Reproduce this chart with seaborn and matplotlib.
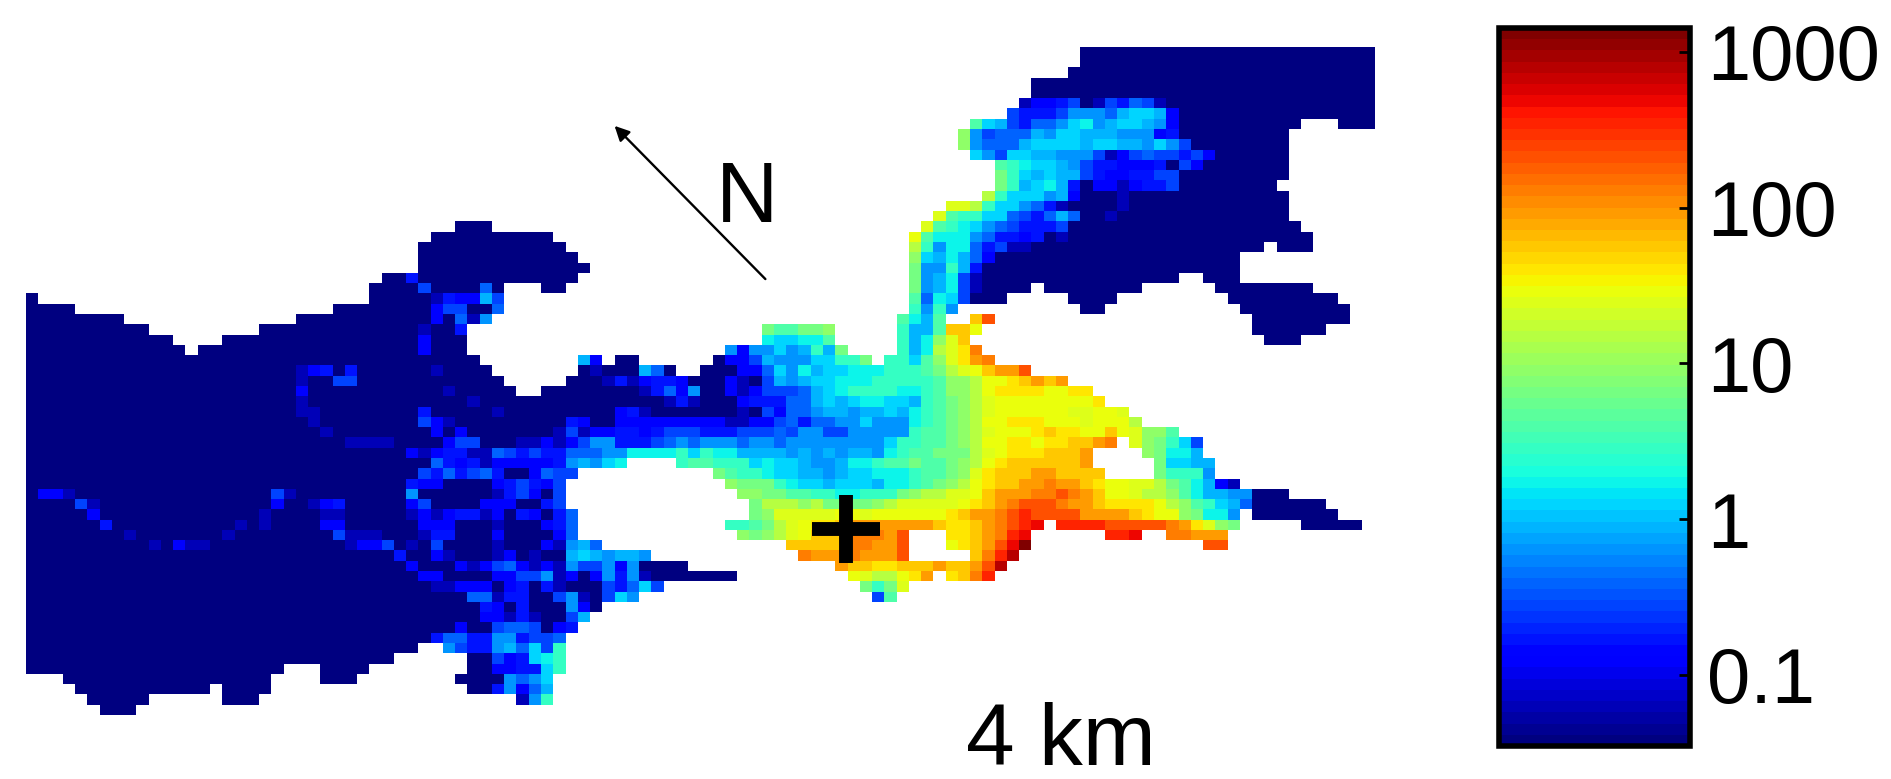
import numpy as np
import pandas as pd
import matplotlib
matplotlib.use("Agg")
import matplotlib.pyplot as plt
import seaborn as sns
from matplotlib.colors import LogNorm

# Size of the model grid
n_rows = 65
n_cols = 110

# Colour bar range and ticks
v_min = 0.035
v_max = 1420
cbar_ticks = [0.1, 1, 10, 100, 1000]
cbar_labels = ["0.1", "1", "10", "100", "1000"]

# Each letter stands for a concentration
level_keys = "0123456789abcdefghijklmnop"
level_values = [0.035, 0.059, 0.112, 0.172, 0.263, 0.40, 0.615, 0.94, 1.29, 1.78,
                2.72, 4.16, 6.35, 9.7, 14.9, 22.7, 31.2, 42.9, 59, 90,
                138, 211, 322, 493, 838, 1400]

# Water cells at the lowest level: (row, first column, end column)
background_runs = [
    (0, 86, 110), (1, 86, 110), (2, 85, 110), (3, 82, 110), (4, 82, 110), (5, 81, 110),
    (6, 93, 110), (7, 93, 104), (7, 107, 110), (8, 93, 103), (9, 94, 103), (10, 94, 103),
    (11, 93, 103), (12, 93, 103), (13, 93, 102), (14, 86, 103), (15, 85, 103),
    (16, 86, 103), (17, 35, 38), (17, 85, 104), (18, 33, 43), (18, 85, 105),
    (19, 32, 44), (19, 82, 101), (19, 102, 105), (20, 32, 45), (20, 79, 99),
    (21, 32, 46), (21, 78, 99), (22, 29, 45), (22, 78, 94), (22, 96, 99),
    (23, 28, 39), (23, 42, 44), (23, 78, 82), (23, 83, 91), (23, 97, 105),
    (24, 0, 1), (24, 28, 39), (24, 77, 80), (24, 85, 89), (24, 98, 107),
    (25, 0, 4), (25, 25, 39), (25, 86, 88), (25, 99, 108),
    (26, 0, 8), (26, 22, 38), (26, 100, 108), (27, 0, 10), (27, 19, 36), (27, 100, 106),
    (28, 0, 12), (28, 16, 36), (28, 101, 104), (29, 0, 13), (29, 14, 36),
    (30, 0, 37), (30, 48, 50), (31, 0, 38), (31, 45, 53), (31, 55, 58),
    (32, 0, 39), (32, 44, 57), (33, 0, 40), (33, 42, 57), (34, 0, 58), (35, 0, 58),
    (36, 0, 44), (37, 0, 43), (38, 0, 42), (39, 0, 42), (40, 0, 42), (41, 0, 42),
    (42, 0, 44), (43, 0, 44), (44, 0, 44), (44, 100, 106), (45, 0, 45), (45, 100, 107),
    (46, 0, 45), (46, 104, 109), (47, 0, 45), (48, 0, 47), (49, 0, 51), (50, 0, 54),
    (51, 0, 58), (52, 0, 52), (53, 0, 50), (54, 0, 47), (55, 0, 46), (56, 0, 45),
    (57, 0, 33), (58, 0, 32), (59, 0, 30), (59, 36, 38), (60, 0, 21), (60, 24, 28),
    (60, 36, 38), (61, 3, 20), (61, 24, 27), (61, 35, 39), (62, 4, 15), (62, 16, 20),
    (62, 36, 38), (63, 5, 10), (63, 16, 19), (64, 6, 9),
]

# Plume cells: (row, first column, levels), "." leaves a cell empty
plume_runs = [
    (5, 81, "122340143541"),
    (6, 80, "43334666578872"),
    (7, 77, "b8743556896788762"),
    (8, 76, "d64555768877766623"),
    (9, 76, "d655578888788776864"),
    (10, 77, "86488776664124544342"),
    (11, 79, "ba988764332223042"),
    (12, 79, "ca8787743223344"),
    (13, 79, "ca7897302212334"),
    (14, 78, "ea888672"), (14, 89, "1"),
    (15, 75, "ffea886531"), (15, 89, "1"),
    (16, 74, "fbaa88543575"), (16, 88, "1"),
    (17, 73, "fba986543334"),
    (18, 72, "gb99965332301"),
    (19, 72, "ea69953411"),
    (20, 72, "d879752"),
    (21, 72, "c66a73"),
    (22, 31, "3"), (22, 72, "c67941"),
    (23, 32, "4"), (23, 37, "5"), (23, 72, "c67941"),
    (24, 33, "132274"), (24, 72, "b5984"),
    (25, 33, "244005"), (25, 72, "a6a6"),
    (26, 33, "20516"), (26, 71, "b97b"), (26, 77, "il"),
    (27, 32, "1"), (27, 35, "3"), (27, 60, "cbbccd"), (27, 71, "a77b"), (27, 75, "iig"),
    (28, 32, "2"), (28, 60, "98899b"), (28, 71, "a79dfi"),
    (29, 32, "2"), (29, 57, "6266867a7c"), (29, 71, "a79efhk"),
    (30, 45, "72"), (30, 56, "0224766688aac"), (30, 70, "aa8bdfhjk"),
    (31, 22, "123"), (31, 26, "3"), (31, 33, "1"), (31, 46, "1"), (31, 50, "75"),
    (31, 58, "225869788999aaabcefgijjl"),
    (32, 22, "1"), (32, 25, "44"), (32, 47, "1312332"),
    (32, 57, "210476788999aaaaabddegghijij"),
    (33, 22, "2"), (33, 34, "1"), (33, 50, "13526"),
    (33, 57, "2124445789aaaa99abddeghhhhgghh"),
    (34, 22, "1"), (34, 36, "1"), (34, 52, "131"),
    (34, 58, "233355787899887abcdefggggggggh"),
    (35, 22, "11"), (35, 32, "3"), (35, 38, "1"), (35, 48, "231"),
    (35, 58, "104255677677879abcdefggggggffggf"),
    (36, 23, "1"), (36, 32, "421"),
    (36, 44, "3200222222222112245355668666" + "9abcdeggh" + "hhgggfggge"),
    (37, 24, "1"), (37, 33, "2"), (37, 35, "2"),
    (37, 43, "14122332344433344454664466666abbcdefggghihhggigfddb"),
    (38, 26, "1111"), (38, 34, "244"), (38, 40, "11"),
    (38, 42, "212466333456566656656" + "6666666" + "8aabbcdegg" + "hhghhiijk" + ".f" + "dca84"),
    (39, 31, "2123311"), (39, 38, "5434"),
    (39, 42, "3355566" + "9999" + "a8a99" + "7777" + "67676776" + "9abbccc" + "efghhhiiij" + "...." + "dc997"),
    (40, 33, "53231"), (40, 38, "2222"),
    (40, 42, "2367689" + "...." + "abbaaa8988766799abbcbbcdeghi" + "iiiiij" + "....." + "c8877"),
    (41, 32, "4353453002"), (41, 42, "544"),
    (41, 56, "cbaa98877678899" + "9abbcdfhi" + "iijjiiii" + "...." + "caaa6"),
    (42, 31, "322"), (42, 38, "2343"), (42, 42, "24"),
    (42, 57, "dccca9887888799abcdeghiijjkjjihggffecb9721"),
    (43, 1, "221"), (43, 20, "41"), (43, 31, "6"), (43, 38, "1342"), (43, 42, "04"),
    (43, 58, "ddccbbaa99aaacdeeffgijj" + "jkklkjigg" + "feedb97766000"),
    (44, 4, "41"), (44, 20, "2"), (44, 23, "123"), (44, 31, "24"), (44, 37, "222"), (44, 42, "34"),
    (44, 59, "ceeedecccc" + "defffffghij" + "klllkjjihhhhgedba875"),
    (45, 5, "2"), (45, 19, "1"), (45, 24, "11"), (45, 31, "12123312032"), (45, 42, "035"),
    (45, 59, "cdfffffggfgggggghijj" + "klmlllljjjjihggdc996"),
    (46, 6, "3"), (46, 17, "1"), (46, 19, "1"), (46, 24, "22"), (46, 32, "222"), (46, 38, "1"),
    (46, 42, "235"),
    (46, 57, "aabcefghhijjjjjjjihhijklmn.mmmmlllllkjhfdc"),
    (47, 8, "1"), (47, 16, "1"), (47, 25, "4111"), (47, 32, "133"), (47, 38, "2"), (47, 43, "25"),
    (47, 58, "dcdefgiiikkkjl...hhijkmn......mmn..kkjjj"),
    (48, 10, "1"), (48, 12, "211"), (48, 26, "1224"), (48, 31, "1"), (48, 33, "4"), (48, 38, "1"),
    (48, 42, "21675"), (48, 62, "iiiiikkjjl"), (48, 75, "ghijlnp"), (48, 96, "ll"),
    (49, 30, "3"), (49, 33, "21"), (49, 38, "12"), (49, 41, "1"), (49, 44, "7876776"),
    (49, 63, "kjjjkjjjl"), (49, 77, "ikmo"),
    (50, 31, "2"), (50, 35, "2124521"), (50, 42, "21644626"), (50, 66, "jiihhiiijiijlo"),
    (51, 32, "22"), (51, 38, "2244"), (51, 42, "612026361"), (51, 67, "gfeeghj.hikm"),
    (52, 33, "11222"), (52, 39, "23"), (52, 42, "31"), (52, 47, "43584"), (52, 68, "cacf"),
    (53, 36, "55133004610486"), (53, 69, "4b"),
    (54, 37, "3203"), (54, 44, "62"),
    (55, 37, "22131"), (55, 44, "47"),
    (56, 35, "2"), (56, 38, "4554"), (56, 43, "23"),
    (57, 33, "35533663445"),
    (58, 34, "643367584a"),
    (59, 38, "42389a"),
    (60, 38, "22338a"),
    (61, 39, "6568"),
    (62, 38, "36257"),
    (63, 40, "16a"),
]

# Position of the release point, north arrow and labels, in grid cells
release_point = (66.85, 46.9)
arrow_tail = (60.3, 22.6)
arrow_head = (48.0, 7.7)
north_label = (58.8, 14.9)
distance_label = (84.4, 67.7)
distance_text = "4 km"


# Function to turn the background runs and plume runs into a table of values
def build_grid():
    grid = np.full((n_rows, n_cols), np.nan)
    for row, first, end in background_runs:
        grid[row, first:end] = level_values[0]
    for row, first, levels in plume_runs:
        for offset, key in enumerate(levels):
            if key != ".":
                grid[row, first + offset] = level_values[level_keys.index(key)]
    return pd.DataFrame(grid)


sns.set_theme(style="white")
plt.rcParams["font.family"] = ["Liberation Sans", "DejaVu Sans"]

width_px = 1891
height_px = 779
fig = plt.figure(figsize=(width_px / 100, height_px / 100), dpi=100, facecolor="white")
ax = fig.add_axes([26.1 / width_px, 1 - 715 / height_px, 1348.6 / width_px, 668.3 / height_px])
cax = fig.add_axes([1499 / width_px, 1 - 746 / height_px, 191 / width_px, 718 / height_px])

jet = plt.get_cmap("jet").resampled(64)
sns.heatmap(build_grid(), ax=ax, cbar_ax=cax, cmap=jet, norm=LogNorm(vmin=v_min, vmax=v_max),
            xticklabels=False, yticklabels=False)

# Colour bar
cbar = ax.collections[0].colorbar
cbar.minorticks_off()
cbar.set_ticks(cbar_ticks, labels=cbar_labels)
cbar.outline.set_visible(True)
cbar.outline.set_edgecolor("black")
cbar.outline.set_linewidth(4)
cax.set_axisbelow(False)
cax.tick_params(axis="y", which="major", direction="in", right=True, length=8, width=2,
                color="black", labelsize=56, labelcolor="black", pad=12)

# Release point
ax.scatter(*release_point, marker="+", s=2400, linewidths=10, color="black", zorder=5)

# North arrow
ax.annotate("", xy=arrow_head, xytext=arrow_tail,
            arrowprops=dict(arrowstyle="-|>", color="black", lw=1.7, mutation_scale=22,
                            shrinkA=0, shrinkB=0))
ax.text(*north_label, "N", fontsize=62, color="black", ha="center", va="center")
ax.text(*distance_label, distance_text, fontsize=63, color="black", ha="center", va="center")

fig.savefig("out.png", dpi=100, facecolor="white")
